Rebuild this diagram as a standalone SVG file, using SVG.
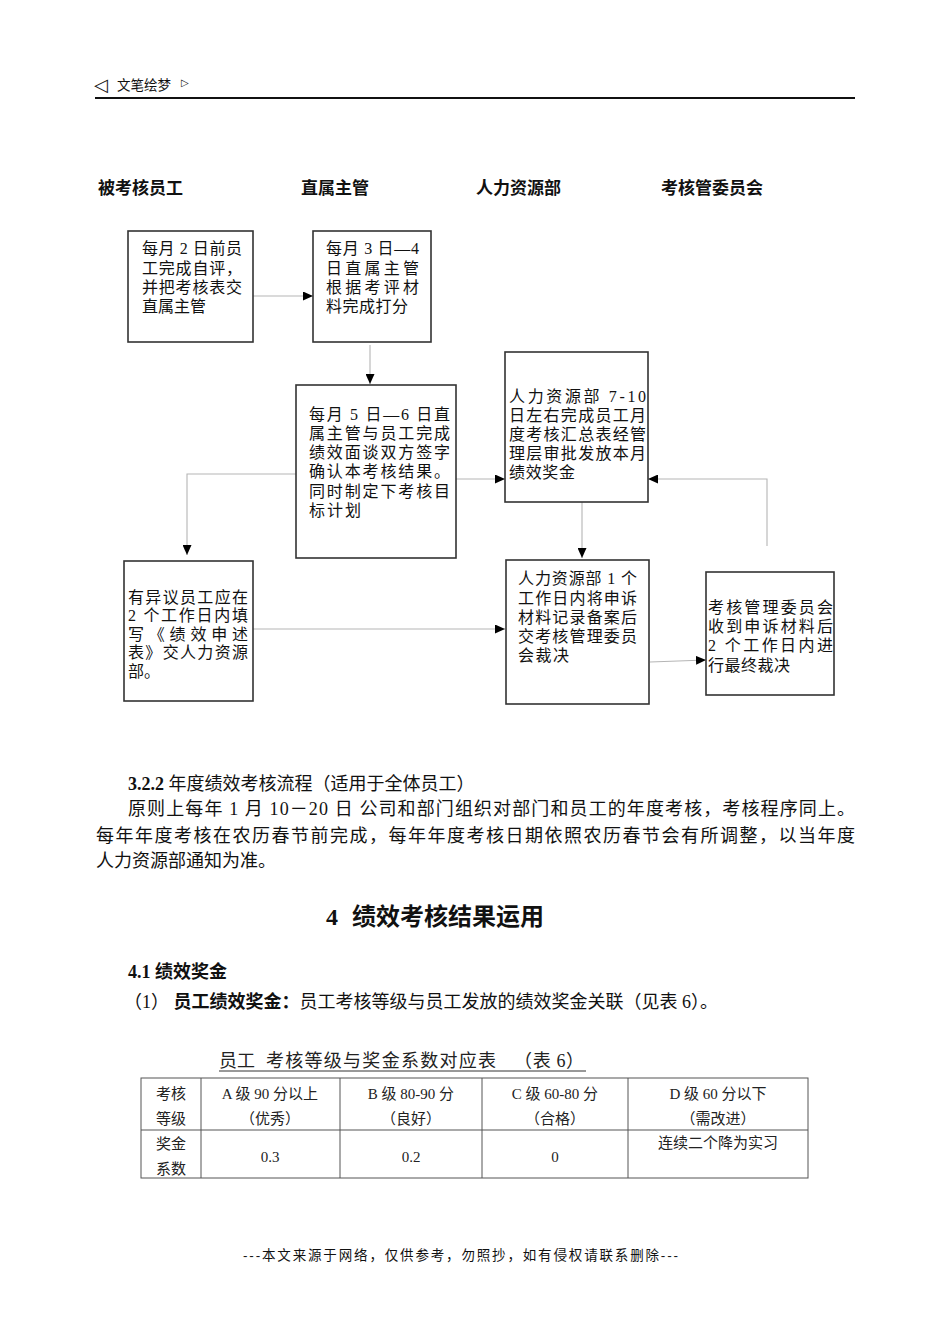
<svg xmlns="http://www.w3.org/2000/svg" width="950" height="1344" viewBox="0 0 950 1344">
<style>
.bx{fill:#fff;stroke:#333;stroke-width:1.6}
.bt{font-family:"Liberation Serif","Noto Sans CJK SC",serif;font-size:16px;fill:#111}
.ch{font-family:"Liberation Sans","Noto Sans CJK SC",sans-serif;font-size:17px;font-weight:bold;fill:#111}
.body{font-family:"Liberation Serif","Noto Sans CJK SC",serif;font-size:18px;fill:#111}
.tb{font-family:"Liberation Serif","Noto Sans CJK SC",serif;font-size:15px;fill:#222;text-anchor:middle}
.cap{font-family:"Liberation Serif","Noto Sans CJK SC",serif;font-size:18px;fill:#222}
.conn{fill:none;stroke:#b5b5b5;stroke-width:1.1}
.tl{stroke:#555;stroke-width:1;fill:none}
</style>
<defs>
<marker id="ah" viewBox="0 0 10 9" refX="10" refY="4.5" markerWidth="10" markerHeight="9" markerUnits="userSpaceOnUse" orient="auto">
<path d="M0,0 L10,4.5 L0,9 z" fill="#000"/>
</marker>
</defs>
<rect width="950" height="1344" fill="#fff"/>

<g id="header">
<text x="94" y="91" font-family="DejaVu Sans,sans-serif" font-size="18" fill="#111">◁</text>
<text x="117" y="90" font-family="Liberation Sans,'Noto Sans CJK SC',sans-serif" font-size="13.5" fill="#111">文笔绘梦</text>
<text x="181" y="86" font-family="DejaVu Sans,sans-serif" font-size="10" fill="#111">▷</text>
<line x1="95" y1="98" x2="855" y2="98" stroke="#111" stroke-width="2"/>
</g>

<g id="lanes">
<text class="ch" x="98" y="194">被考核员工</text>
<text class="ch" x="301" y="194">直属主管</text>
<text class="ch" x="476" y="194">人力资源部</text>
<text class="ch" x="661" y="194">考核管委员会</text>
</g>

<g id="connectors">
<path class="conn" d="M253,296 H313" marker-end="url(#ah)"/>
<path class="conn" d="M370,345 V384" marker-end="url(#ah)"/>
<path class="conn" d="M456,479 H505" marker-end="url(#ah)"/>
<path class="conn" d="M296,474 H187 V555" marker-end="url(#ah)"/>
<path class="conn" d="M582,502 V558" marker-end="url(#ah)"/>
<path class="conn" d="M253,629 H505" marker-end="url(#ah)"/>
<path class="conn" d="M650,662 L706,660" marker-end="url(#ah)"/>
<path class="conn" d="M767,546 V479 H648" marker-end="url(#ah)"/>
</g>

<g id="n1">
<rect class="bx" x="128" y="231" width="125" height="111"/>
<text class="bt" x="142" y="254" textLength="100" lengthAdjust="spacing">每月 2 日前员</text>
<text class="bt" x="142" y="274" textLength="100" lengthAdjust="spacing">工完成自评，</text>
<text class="bt" x="142" y="293" textLength="100" lengthAdjust="spacing">并把考核表交</text>
<text class="bt" x="142" y="312">直属主管</text>
</g>

<g id="n2">
<rect class="bx" x="313" y="231" width="118" height="111"/>
<text class="bt" x="326" y="254" textLength="93" lengthAdjust="spacing">每月 3 日—4</text>
<text class="bt" x="326" y="274" textLength="93" lengthAdjust="spacing">日直属主管</text>
<text class="bt" x="326" y="293" textLength="93" lengthAdjust="spacing">根据考评材</text>
<text class="bt" x="326" y="312" textLength="82" lengthAdjust="spacing">料完成打分</text>
</g>

<g id="n3">
<rect class="bx" x="296" y="385" width="160" height="173"/>
<text class="bt" x="309" y="420" textLength="141" lengthAdjust="spacing">每月 5 日—6 日直</text>
<text class="bt" x="309" y="439" textLength="141" lengthAdjust="spacing">属主管与员工完成</text>
<text class="bt" x="309" y="458" textLength="141" lengthAdjust="spacing">绩效面谈双方签字</text>
<text class="bt" x="309" y="477" textLength="141" lengthAdjust="spacing">确认本考核结果。</text>
<text class="bt" x="309" y="497" textLength="141" lengthAdjust="spacing">同时制定下考核目</text>
<text class="bt" x="309" y="516" textLength="52" lengthAdjust="spacing">标计划</text>
</g>

<g id="n4">
<rect class="bx" x="505" y="352" width="143" height="150"/>
<text class="bt" x="509" y="402" textLength="137" lengthAdjust="spacing">人力资源部 7-10</text>
<text class="bt" x="509" y="421" textLength="137" lengthAdjust="spacing">日左右完成员工月</text>
<text class="bt" x="509" y="440" textLength="137" lengthAdjust="spacing">度考核汇总表经管</text>
<text class="bt" x="509" y="459" textLength="137" lengthAdjust="spacing">理层审批发放本月</text>
<text class="bt" x="509" y="478" textLength="66" lengthAdjust="spacing">绩效奖金</text>
</g>

<g id="n5">
<rect class="bx" x="124" y="561" width="129" height="140"/>
<text class="bt" x="128" y="603" textLength="120" lengthAdjust="spacing">有异议员工应在</text>
<text class="bt" x="128" y="621" textLength="120" lengthAdjust="spacing">2 个工作日内填</text>
<text class="bt" x="128" y="640" textLength="120" lengthAdjust="spacing">写《绩效申述</text>
<text class="bt" x="128" y="658" textLength="120" lengthAdjust="spacing">表》交人力资源</text>
<text class="bt" x="128" y="677">部。</text>
</g>

<g id="n6">
<rect class="bx" x="506" y="560" width="143" height="144"/>
<text class="bt" x="518" y="584" textLength="119" lengthAdjust="spacing">人力资源部 1 个</text>
<text class="bt" x="518" y="604" textLength="119" lengthAdjust="spacing">工作日内将申诉</text>
<text class="bt" x="518" y="623" textLength="119" lengthAdjust="spacing">材料记录备案后</text>
<text class="bt" x="518" y="642" textLength="119" lengthAdjust="spacing">交考核管理委员</text>
<text class="bt" x="518" y="661" textLength="51" lengthAdjust="spacing">会裁决</text>
</g>

<g id="n7">
<rect class="bx" x="706" y="572" width="128" height="123"/>
<text class="bt" x="708" y="613" textLength="125" lengthAdjust="spacing">考核管理委员会</text>
<text class="bt" x="708" y="632" textLength="125" lengthAdjust="spacing">收到申诉材料后</text>
<text class="bt" x="708" y="651" textLength="125" lengthAdjust="spacing">2 个工作日内进</text>
<text class="bt" x="708" y="671" textLength="82" lengthAdjust="spacing">行最终裁决</text>
</g>

<g id="text-body">
<text class="body" x="128" y="790" font-size="17"><tspan font-weight="bold">3.2.2</tspan> 年度绩效考核流程（适用于全体员工）</text>
<text class="body" x="128" y="815" textLength="727" lengthAdjust="spacing">原则上每年 1 月 10－20 日  公司和部门组织对部门和员工的年度考核，考核程序同上。</text>
<text class="body" x="96" y="842" textLength="759" lengthAdjust="spacing">每年年度考核在农历春节前完成，每年年度考核日期依照农历春节会有所调整，以当年度</text>
<text class="body" x="96" y="867">人力资源部通知为准。</text>
<text x="326" y="925" font-family="Liberation Serif,'Noto Sans CJK SC',serif" font-size="24" font-weight="bold" fill="#111">4<tspan dx="14">绩效考核结果运用</tspan></text>
<text class="body" x="128" y="978" font-size="17" font-weight="bold">4.1 绩效奖金</text>
<text class="body" x="124" y="1008" font-size="17">（1） <tspan font-weight="bold">员工绩效奖金：</tspan>员工考核等级与员工发放的绩效奖金关联（见表 6）。</text>
</g>

<g id="table">
<text class="cap" y="1067"><tspan x="219">员工</tspan><tspan x="266" textLength="230" lengthAdjust="spacing">考核等级与奖金系数对应表</tspan><tspan x="514" textLength="70" lengthAdjust="spacing">（表 6）</tspan></text>
<line x1="219" y1="1071" x2="586" y2="1071" stroke="#333" stroke-width="1"/>
<rect class="tl" x="141" y="1078" width="667" height="100"/>
<line class="tl" x1="141" y1="1130" x2="808" y2="1130"/>
<line class="tl" x1="201" y1="1078" x2="201" y2="1178"/>
<line class="tl" x1="340" y1="1078" x2="340" y2="1178"/>
<line class="tl" x1="482" y1="1078" x2="482" y2="1178"/>
<line class="tl" x1="628" y1="1078" x2="628" y2="1178"/>
<text class="tb" x="171" y="1099">考核</text>
<text class="tb" x="171" y="1124">等级</text>
<text class="tb" x="270" y="1099">A 级 90 分以上</text>
<text class="tb" x="270" y="1124">（优秀）</text>
<text class="tb" x="411" y="1099">B 级 80-90 分</text>
<text class="tb" x="411" y="1124">（良好）</text>
<text class="tb" x="555" y="1099">C 级 60-80 分</text>
<text class="tb" x="555" y="1124">（合格）</text>
<text class="tb" x="718" y="1099">D 级 60 分以下</text>
<text class="tb" x="718" y="1124">（需改进）</text>
<text class="tb" x="171" y="1149">奖金</text>
<text class="tb" x="171" y="1174">系数</text>
<text class="tb" x="270" y="1162">0.3</text>
<text class="tb" x="411" y="1162">0.2</text>
<text class="tb" x="555" y="1162">0</text>
<text class="tb" x="718" y="1148">连续二个降为实习</text>
</g>

<g id="footer">
<text x="243" y="1260" font-family="Liberation Sans,'Noto Sans CJK SC',sans-serif" font-size="13.5" fill="#111" textLength="435" lengthAdjust="spacing">---本文来源于网络，仅供参考，勿照抄，如有侵权请联系删除---</text>
</g>
</svg>
